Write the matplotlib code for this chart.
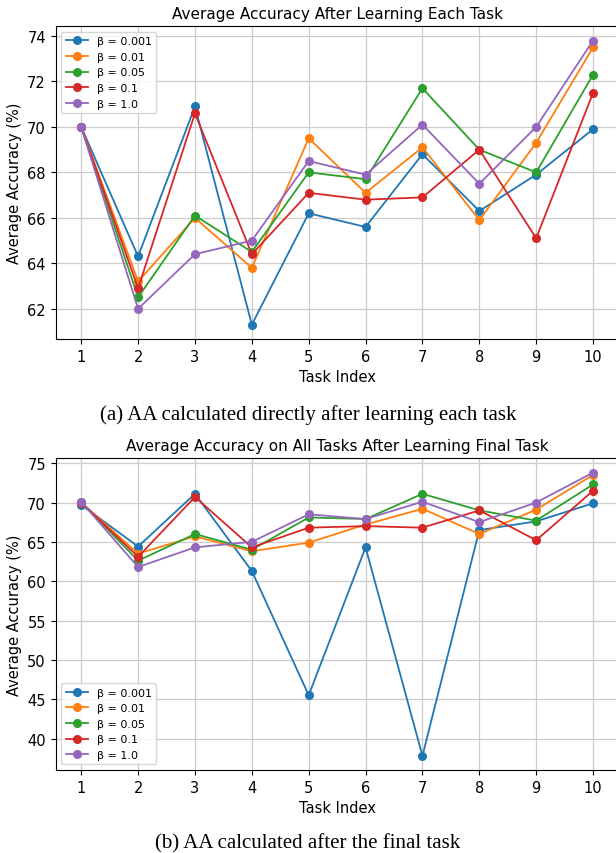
import matplotlib
matplotlib.use('Agg')
import matplotlib.pyplot as plt

tasks = [1, 2, 3, 4, 5, 6, 7, 8, 9, 10]
betas = ['0.001', '0.01', '0.05', '0.1', '1.0']

# AA directly after learning each task
aa_each = {
    '0.001': [70.0, 64.3, 70.9, 61.3, 66.2, 65.6, 68.8, 66.3, 67.9, 69.9],
    '0.01':  [70.0, 63.2, 66.0, 63.8, 69.5, 67.1, 69.1, 65.9, 69.3, 73.5],
    '0.05':  [70.0, 62.5, 66.1, 64.5, 68.0, 67.7, 71.7, 69.0, 68.0, 72.3],
    '0.1':   [70.0, 62.9, 70.6, 64.4, 67.1, 66.8, 66.9, 69.0, 65.1, 71.5],
    '1.0':   [70.0, 62.0, 64.4, 65.0, 68.5, 67.9, 70.1, 67.5, 70.0, 73.8],
}

# AA on all tasks after the final task
aa_final = {
    '0.001': [69.7, 64.4, 71.1, 61.3, 45.5, 64.3, 37.8, 66.5, 67.6, 69.9],
    '0.01':  [70.0, 63.5, 65.7, 63.8, 64.9, 67.2, 69.2, 66.0, 69.1, 73.5],
    '0.05':  [70.1, 62.6, 66.0, 64.0, 68.1, 67.9, 71.1, 69.0, 67.7, 72.3],
    '0.1':   [70.0, 63.1, 70.7, 64.3, 66.8, 67.0, 66.8, 69.0, 65.2, 71.5],
    '1.0':   [70.1, 61.8, 64.3, 65.0, 68.5, 67.9, 70.1, 67.5, 70.0, 73.8],
}

fig = plt.figure(figsize=(6.16, 8.54), dpi=100)
ax1 = fig.add_axes([0.0903, 0.602, 0.914, 0.366])
ax2 = fig.add_axes([0.0903, 0.0972, 0.914, 0.3648])

def draw(ax, data, title, loc):
    for b in betas:
        ax.plot(tasks, data[b], marker='o', markersize=5.5, linewidth=1.3, label=f'β = {b}')
    ax.set_title(title, fontsize=11)
    ax.set_xlabel('Task Index', fontsize=10.5)
    ax.set_ylabel('Average Accuracy (%)', fontsize=10.5)
    ax.set_xticks(tasks)
    ax.tick_params(labelsize=10.5)
    ax.grid(True, color='#cccccc', linewidth=0.9)
    ax.legend(loc=loc, fontsize=8)

draw(ax1, aa_each, 'Average Accuracy After Learning Each Task', 'upper left')
draw(ax2, aa_final, 'Average Accuracy on All Tasks After Learning Final Task', 'lower left')

fig.text(0.5, 0.514, '(a) AA calculated directly after learning each task',
         ha='center', va='center', family='Liberation Serif', fontsize=15)
fig.text(0.5, 0.012, '(b) AA calculated after the final task',
         ha='center', va='center', family='Liberation Serif', fontsize=15)

plt.savefig('out.png', dpi=100)
